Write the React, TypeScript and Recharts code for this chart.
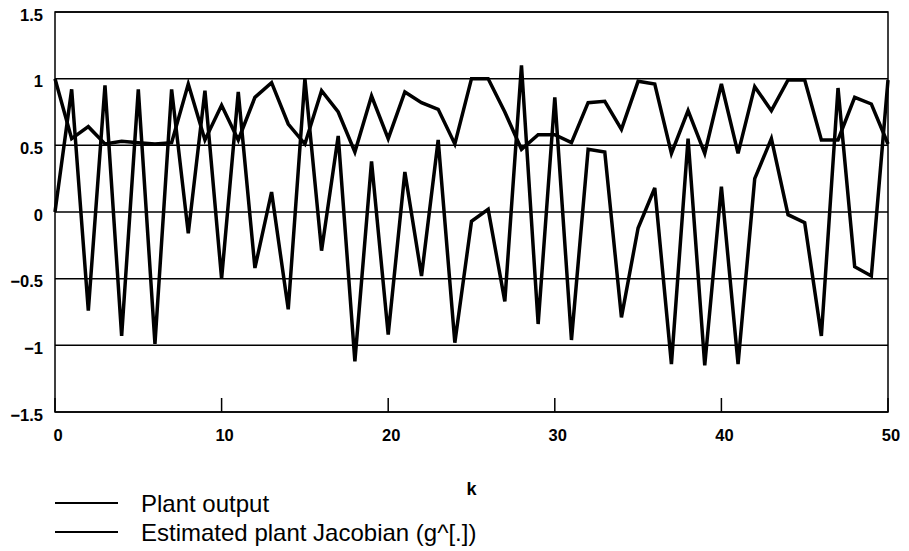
import React from "react";
import {
  LineChart,
  Line,
  XAxis,
  YAxis,
  CartesianGrid,
  ReferenceArea,
  Label,
} from "recharts";

// k = 0..50
const plantOutput = [
  0, 0.92, -0.74, 0.95, -0.93, 0.92, -0.99, 0.92, -0.16, 0.91,
  -0.5, 0.9, -0.42, 0.15, -0.73, 1.0, -0.29, 0.57, -1.12, 0.38,
  -0.92, 0.3, -0.48, 0.54, -0.98, -0.07, 0.02, -0.67, 1.1, -0.84,
  0.86, -0.96, 0.47, 0.45, -0.79, -0.12, 0.18, -1.14, 0.55, -1.15,
  0.19, -1.14, 0.25, 0.55, -0.02, -0.08, -0.93, 0.93, -0.41, -0.48,
  0.99,
];

const jacobianEstimate = [
  1.0, 0.55, 0.64, 0.51, 0.53, 0.52, 0.51, 0.52, 0.96, 0.54,
  0.8, 0.54, 0.86, 0.97, 0.66, 0.51, 0.91, 0.75, 0.45, 0.87,
  0.55, 0.9, 0.82, 0.77, 0.51, 1.0, 1.0, 0.75, 0.47, 0.58,
  0.58, 0.52, 0.82, 0.83, 0.62, 0.98, 0.96, 0.44, 0.76, 0.44,
  0.96, 0.44, 0.94, 0.76, 0.99, 0.99, 0.54, 0.54, 0.86, 0.81,
  0.51,
];

const xTicks = [0, 10, 20, 30, 40, 50];
const yTicks = [-1.5, -1, -0.5, 0, 0.5, 1, 1.5];

const seriesNames = ["Plant output", "Estimated plant Jacobian (g^[.])"];

const data = plantOutput.map((v, k) => ({
  k,
  output: v,
  jacobian: jacobianEstimate[k],
}));

const font = "'Liberation Sans', Arial, sans-serif";

const fmt = (v: number) => (v < 0 ? "\u2212" + Math.abs(v) : String(v));

const XTick = (props: any) => {
  const { x, y, payload } = props;
  return (
    <text
      x={x + 3}
      y={y + 23}
      textAnchor="middle"
      dominantBaseline="central"
      fontFamily={font}
      fontSize={16.5}
      fontWeight={700}
      fill="#000"
    >
      {fmt(payload.value)}
    </text>
  );
};

const YTick = (props: any) => {
  const { x, y, payload } = props;
  return (
    <text
      x={x}
      y={y + 2.5}
      textAnchor="end"
      dominantBaseline="central"
      fontFamily={font}
      fontSize={16.5}
      fontWeight={700}
      fill="#000"
    >
      {fmt(payload.value)}
    </text>
  );
};

export default function App() {
  return (
    <div style={{ position: "absolute", left: 0, top: 0, width: 909, height: 551, background: "#fff" }}>
      <LineChart
        width={909}
        height={551}
        data={data}
        margin={{ top: 12, right: 21, left: 0, bottom: 59 }}
      >
        <CartesianGrid vertical={false} stroke="#000" strokeWidth={1.5} />
        <ReferenceArea
          x1={0}
          x2={50}
          y1={-1.5}
          y2={1.5}
          fill="none"
          stroke="#000"
          strokeWidth={1.5}
          ifOverflow="visible"
        />
        <XAxis
          dataKey="k"
          type="number"
          domain={[0, 50]}
          ticks={xTicks}
          axisLine={false}
          tickLine={{ stroke: "#000", strokeWidth: 1.5 }}
          tickSize={-14}
          tickMargin={14}
          tick={<XTick />}
          height={80}
        >
          <Label
            value="k"
            position="insideBottom"
            offset={-3}
            style={{ fontSize: 18, fontWeight: 700, fontFamily: font, fill: "#000" }}
          />
        </XAxis>
        <XAxis
          xAxisId="top"
          orientation="top"
          dataKey="k"
          type="number"
          domain={[0, 50]}
          ticks={xTicks}
          axisLine={false}
          tickLine={{ stroke: "#000", strokeWidth: 1.5 }}
          tickSize={-13}
          tickFormatter={() => ""}
          height={0}
        />
        <YAxis
          type="number"
          domain={[-1.5, 1.5]}
          ticks={yTicks}
          axisLine={false}
          tickLine={false}
          tickSize={0}
          tickMargin={12}
          tick={<YTick />}
          width={55}
        />
        <Line
          type="linear"
          dataKey="jacobian"
          name={seriesNames[1]}
          stroke="#000"
          strokeWidth={3.5}
          dot={false}
          isAnimationActive={false}
        />
        <Line
          type="linear"
          dataKey="output"
          name={seriesNames[0]}
          stroke="#000"
          strokeWidth={3.5}
          dot={false}
          isAnimationActive={false}
        />
      </LineChart>
      <div style={{ position: "absolute", left: 55, top: 490, fontFamily: font, fontSize: 24, color: "#000" }}>
        {seriesNames.map((name) => (
          <div key={name} style={{ display: "flex", alignItems: "center", height: 28.5, whiteSpace: "nowrap" }}>
            <span style={{ display: "inline-block", width: 63, borderTop: "2px solid #000", marginRight: 23, position: "relative", top: -1 }} />
            <span>{name}</span>
          </div>
        ))}
      </div>
    </div>
  );
}
